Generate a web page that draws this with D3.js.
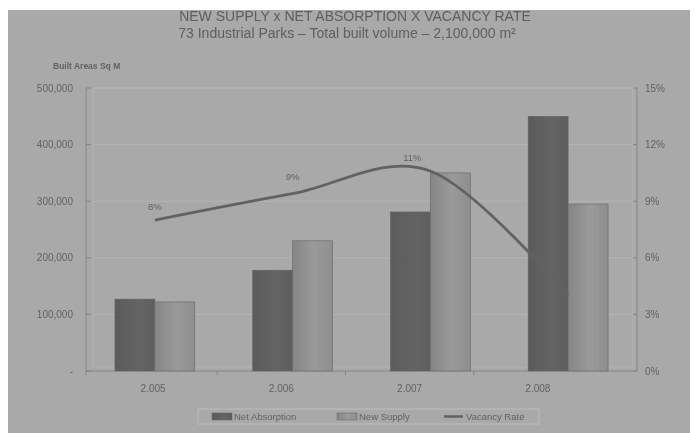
<!DOCTYPE html>
<html>
<head>
<meta charset="utf-8">
<script src="https://cdn.jsdelivr.net/npm/d3@7"></script>
<style>
  body { margin: 0; background: #fff; }
  svg { display: block; font-family: "Liberation Sans", Arial, sans-serif; }
</style>
</head>
<body>
<svg id="chart" width="694" height="433"></svg>
<script>
const years = ["2.005", "2.006", "2.007", "2.008"];
const netAbsorption = [127000, 178000, 281000, 450000];
const newSupply = [122000, 230000, 350000, 295000];
const vacancyRate = [8.0, 9.4, 10.6, 4.0];
const leftTicks = [0, 100000, 200000, 300000, 400000, 500000];
const rightTicks = [0, 3, 6, 9, 12, 15];
const seriesNames = ["Net Absorption", "New Supply", "Vacancy Rate"];

const svg = d3.select("#chart");
const W = 694, H = 433;
const plot = { left: 86, right: 637, top: 88, bottom: 371 };
const textCol = "#626262";

const defs = svg.append("defs");
defs.append("filter").attr("id", "soft")
  .append("feGaussianBlur").attr("stdDeviation", 0.6);

function grad(id, stops) {
  let g = defs.append("linearGradient").attr("id", id)
    .attr("x1", "0%").attr("x2", "100%").attr("y1", "0%").attr("y2", "0%");
  stops.forEach(s => g.append("stop").attr("offset", s[0]).attr("stop-color", s[1]));
}
grad("gDark", [["0%", "#5b5b5b"], ["60%", "#646464"], ["100%", "#5e5e5e"]]);
grad("gLight", [["0%", "#868686"], ["55%", "#9a9a9a"], ["100%", "#8e8e8e"]]);

const root = svg.append("g").attr("filter", "url(#soft)");

// background panel
root.append("rect").attr("x", 8).attr("y", 10).attr("width", W - 12).attr("height", H - 10)
  .attr("fill", "#a9a9a9");

const x = d3.scaleBand().domain(years).range([plot.left, plot.right])
  .paddingInner(0.42).paddingOuter(0.21);
const xFront = d3.scaleBand().domain(years).range([89, 602]);
const x1 = d3.scaleBand().domain([0, 1]).range([0, x.bandwidth()]);
const y = d3.scaleLinear().domain([0, 500000]).range([plot.bottom, plot.top]);
const yR = d3.scaleLinear().domain([0, 15]).range([plot.bottom, plot.top]);

// back wall gridlines
root.append("g").selectAll("line").data(leftTicks.slice(1)).join("line")
  .attr("x1", plot.left + 7).attr("x2", plot.right - 4)
  .attr("y1", d => y(d)).attr("y2", d => y(d))
  .attr("stroke", "#b6b6b6").attr("stroke-width", 1);

// wall depth edges
root.append("line").attr("x1", plot.left + 7).attr("x2", plot.left + 7)
  .attr("y1", plot.top).attr("y2", plot.bottom - 4).attr("stroke", "#b3b3b3");
root.append("line").attr("x1", plot.right - 4).attr("x2", plot.right - 4)
  .attr("y1", plot.top).attr("y2", plot.bottom - 4).attr("stroke", "#b3b3b3");
root.append("line").attr("x1", plot.left + 7).attr("x2", plot.right - 4)
  .attr("y1", plot.bottom - 4).attr("y2", plot.bottom - 4).attr("stroke", "#b3b3b3");

// axes lines
root.append("line").attr("x1", plot.left).attr("x2", plot.left)
  .attr("y1", plot.top).attr("y2", plot.bottom + 4).attr("stroke", "#858585");
root.append("line").attr("x1", plot.right).attr("x2", plot.right)
  .attr("y1", plot.top).attr("y2", plot.bottom).attr("stroke", "#858585");
root.append("line").attr("x1", plot.left).attr("x2", plot.right)
  .attr("y1", plot.bottom).attr("y2", plot.bottom).attr("stroke", "#858585");

// left ticks & labels
const lt = root.append("g").selectAll("g").data(leftTicks).join("g")
  .attr("transform", d => `translate(0,${y(d)})`);
lt.append("line").attr("x1", plot.left).attr("x2", plot.left + 5).attr("stroke", "#858585");
lt.append("text").attr("x", 73).attr("dy", "0.35em").attr("text-anchor", "end")
  .attr("font-size", 10).attr("fill", textCol)
  .text(d => d === 0 ? "-" : d3.format(",")(d));

// right ticks & labels
const rt = root.append("g").selectAll("g").data(rightTicks).join("g")
  .attr("transform", d => `translate(0,${yR(d)})`);
rt.append("line").attr("x1", plot.right - 4).attr("x2", plot.right).attr("stroke", "#858585");
rt.append("text").attr("x", plot.right + 8).attr("dy", "0.35em")
  .attr("font-size", 10).attr("fill", textCol).text(d => d + "%");

// category ticks & labels on front axis
root.append("g").selectAll("line").data(years.slice(1)).join("line")
  .attr("x1", d => xFront(d)).attr("x2", d => xFront(d))
  .attr("y1", plot.bottom).attr("y2", plot.bottom + 4).attr("stroke", "#858585");
root.append("g").selectAll("text").data(years).join("text")
  .attr("x", d => xFront(d) + xFront.bandwidth() / 2).attr("y", 392)
  .attr("text-anchor", "middle").attr("font-size", 10).attr("fill", textCol)
  .text(d => d);

// bars
const bars = root.append("g");
years.forEach((yr, i) => {
  [[netAbsorption[i], "url(#gDark)"], [newSupply[i], "url(#gLight)"]].forEach((s, k) => {
    bars.append("rect")
      .attr("x", x(yr) + x1(k)).attr("width", x1.bandwidth())
      .attr("y", y(s[0])).attr("height", y(0) - y(s[0]))
      .attr("fill", s[1]).attr("stroke", "#666").attr("stroke-width", 0.6);
  });
});

// vacancy line
const pts = years.map((yr, i) => [x(yr) + x.bandwidth() / 2, yR(vacancyRate[i])]);
root.append("path").datum(pts)
  .attr("d", d3.line().curve(d3.curveCardinal.tension(0)))
  .attr("fill", "none").attr("stroke", "#626262").attr("stroke-width", 2.8);

// value labels (the 2008 one sits on the dark bar and is barely visible)
root.append("g").selectAll("text").data(pts).join("text")
  .attr("x", (d, i) => d[0] + (i === 2 ? -18 : i === 3 ? -14 : 0))
  .attr("y", (d, i) => d[1] - 10 - (i === 1 ? 4 : 0))
  .attr("text-anchor", "middle").attr("font-size", 9.5)
  .attr("fill", (d, i) => i === 3 ? "#656565" : textCol)
  .text((d, i) => Math.round(vacancyRate[i]) + "%");

// titles
root.append("text").attr("x", 355).attr("y", 21).attr("text-anchor", "middle")
  .attr("font-size", 14).attr("fill", "#5e5e5e")
  .text("NEW SUPPLY x NET ABSORPTION X VACANCY RATE");
root.append("text").attr("x", 347).attr("y", 38).attr("text-anchor", "middle")
  .attr("font-size", 14).attr("fill", "#5e5e5e")
  .text("73 Industrial Parks – Total built volume – 2,100,000 m²");
root.append("text").attr("x", 53).attr("y", 69)
  .attr("font-size", 8.5).attr("font-weight", "bold").attr("fill", textCol)
  .text("Built Areas Sq M");

// legend
const lg = root.append("g");
lg.append("rect").attr("x", 198).attr("y", 409).attr("width", 341).attr("height", 15)
  .attr("fill", "none").attr("stroke", "#bdbdbd");
const legendItems = [
  { name: seriesNames[0], x: 212, fill: "url(#gDark)" },
  { name: seriesNames[1], x: 337, fill: "url(#gLight)" },
  { name: seriesNames[2], x: 444, fill: null }
];
legendItems.forEach(it => {
  if (it.fill) {
    lg.append("rect").attr("x", it.x).attr("y", 413).attr("width", 20).attr("height", 7)
      .attr("fill", it.fill).attr("stroke", "#666").attr("stroke-width", 0.5);
  } else {
    lg.append("line").attr("x1", it.x).attr("x2", it.x + 19).attr("y1", 416.5).attr("y2", 416.5)
      .attr("stroke", "#626262").attr("stroke-width", 2.5);
  }
  lg.append("text").attr("x", it.x + 22).attr("y", 420).attr("font-size", 9.5)
    .attr("fill", textCol).text(it.name);
});
</script>
</body>
</html>
